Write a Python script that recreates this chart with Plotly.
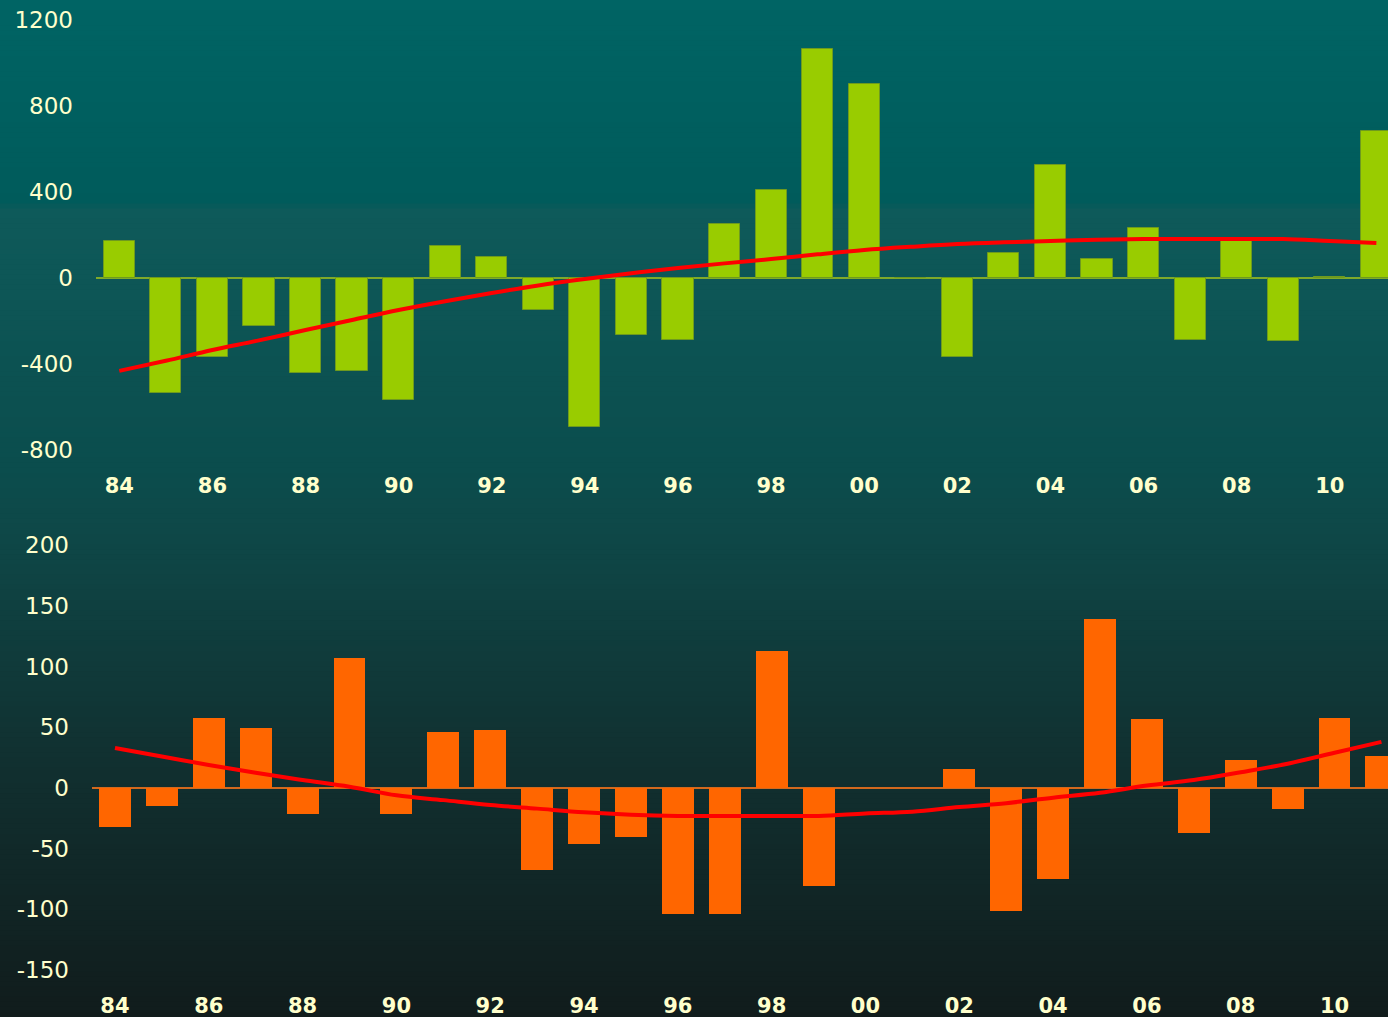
import plotly.graph_objects as go
from plotly.subplots import make_subplots

# --- data ---
years = list(range(1984, 2012))

upper_values = [170, -535, -367, -223, -442, -433, -567, 149, 98, -149,
                -693, -265, -288, 251, 409, 1065, 902, 0, -367, 116,
                526, 88, 233, -288, 175, -293, 5, 684]
upper_trend = [-432, -385, -335, -290, -242, -195, -149, -108, -70, -35,
               -5, 22, 46, 68, 88, 110, 130, 145, 158, 166,
               172, 178, 181, 181, 181, 181, 172, 163]

lower_values = [-32, -15, 58, 49.5, -21.5, 107, -21.5, 46, 48, -67.6,
                -46, -40, -103.6, -103.6, 113, -80.5, 0, 0, 15.7, -101,
                -75, 139.5, 57, -37, 23, -17, 58, 26.5]
lower_trend = [33, 26, 19, 12.5, 6.6, 1, -6, -10, -14, -17,
               -20, -22, -23, -23, -23, -23, -21, -19.5, -15.7, -12.5,
               -8, -4, 2, 6.6, 13, 20, 29, 38]

x_tickvals = list(range(1984, 2012, 2))
x_ticktext = ["84", "86", "88", "90", "92", "94", "96", "98", "00", "02", "04", "06", "08", "10"]
upper_yticks = [-800, -400, 0, 400, 800, 1200]
lower_yticks = [-150, -100, -50, 0, 50, 100, 150, 200]

W, H = 1388, 1017
label_col = "#FFFFCC"

fig = make_subplots(rows=2, cols=1)

fig.add_trace(go.Bar(x=years, y=upper_values, width=0.67,
                     marker=dict(color="#99CC00", line=dict(color="#6E9A1E", width=1))),
              row=1, col=1)
fig.add_trace(go.Scatter(x=years, y=upper_trend, mode="lines",
                         line=dict(color="#FF0000", width=4, shape="spline")),
              row=1, col=1)
fig.add_trace(go.Bar(x=years, y=lower_values, width=0.68,
                     marker=dict(color="#FF6600", line=dict(width=0))),
              row=2, col=1)
fig.add_trace(go.Scatter(x=years, y=lower_trend, mode="lines",
                         line=dict(color="#FF0000", width=4, shape="spline")),
              row=2, col=1)

# background gradient built from thin horizontal strips (paper coords)
stops = [(0.0, (0, 100, 100)), (0.2, (0, 91, 91)), (0.205, (14, 90, 90)),
         (0.46, (11, 77, 77)), (0.52, (14, 72, 72)), (0.75, (17, 48, 48)),
         (1.0, (17, 28, 28))]


def color_at(t):
    for (t0, c0), (t1, c1) in zip(stops[:-1], stops[1:]):
        if t0 <= t <= t1:
            f = (t - t0) / (t1 - t0) if t1 > t0 else 0
            return "rgb(%d,%d,%d)" % tuple(round(a + (b - a) * f) for a, b in zip(c0, c1))
    return "rgb(%d,%d,%d)" % stops[-1][1]


n = 200
shapes = []
for i in range(n):
    t = (i + 0.5) / n
    shapes.append(dict(type="rect", xref="paper", yref="paper", x0=0, x1=1,
                       y0=1 - (i + 1) / n - 0.001, y1=1 - i / n, layer="below",
                       line=dict(width=0), fillcolor=color_at(t)))


def py(p):
    return (H - p) / H


font_y = dict(family="DejaVu Sans, Arial", size=23, color=label_col)
font_x = dict(family="DejaVu Sans, Arial", size=21, color=label_col, weight="bold")

fig.update_layout(
    width=W, height=H,
    margin=dict(l=0, r=0, t=0, b=0),
    paper_bgcolor="#0d4848", plot_bgcolor="rgba(0,0,0,0)",
    showlegend=False, bargap=0, shapes=shapes,
    xaxis=dict(domain=[96 / W, 1], range=[1983.5, 2011.25], tickvals=x_tickvals,
               ticktext=x_ticktext, tickfont=font_x, showgrid=False, zeroline=False,
               showline=False, ticks="", ticklabelstandoff=6),
    yaxis=dict(domain=[py(465), py(5)], range=[-(465 - 278) / 0.215, (278 - 5) / 0.215],
               tickvals=upper_yticks, ticktext=[str(v) for v in upper_yticks],
               tickfont=font_y, showgrid=False,
               zeroline=True, zerolinecolor="#7FAA2A", zerolinewidth=1.5,
               ticks="", ticklabelstandoff=22),
    xaxis2=dict(domain=[92 / W, 1], range=[1983.51, 2011.14], tickvals=x_tickvals,
                ticktext=x_ticktext, tickfont=font_x, showgrid=False, zeroline=False,
                showline=False, ticks="", ticklabelstandoff=6),
    yaxis2=dict(domain=[py(985), py(530)], range=[-(985 - 788) / 1.213, (788 - 530) / 1.213],
                tickvals=lower_yticks, ticktext=[str(v) for v in lower_yticks],
                tickfont=font_y, showgrid=False,
                zeroline=True, zerolinecolor="#D2691E", zerolinewidth=1.5,
                ticks="", ticklabelstandoff=22),
)

fig.write_html("out.html", config={"displayModeBar": False},
               post_script="document.body.style.margin='0';")
